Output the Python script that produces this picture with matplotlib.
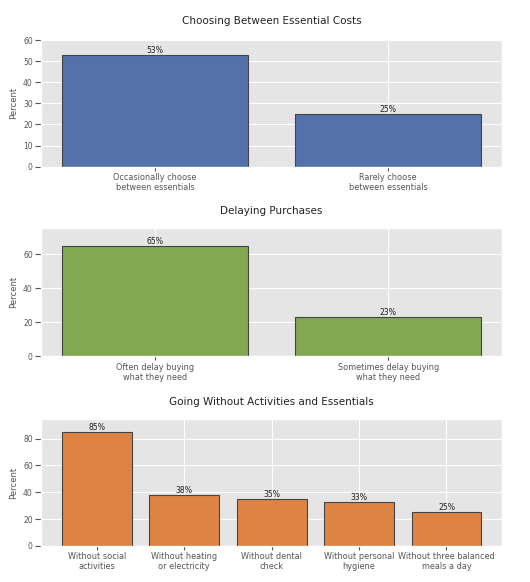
import matplotlib
matplotlib.use("Agg")
import matplotlib.pyplot as plt

plt.style.use("ggplot")

titles = ["Choosing Between Essential Costs", "Delaying Purchases",
          "Going Without Activities and Essentials"]

cats1 = ["Occasionally choose\nbetween essentials", "Rarely choose\nbetween essentials"]
vals1 = [53, 25]
cats2 = ["Often delay buying\nwhat they need", "Sometimes delay buying\nwhat they need"]
vals2 = [65, 23]
cats3 = ["Without social\nactivities", "Without heating\nor electricity", "Without dental\ncheck",
         "Without personal\nhygiene", "Without three balanced\nmeals a day"]
vals3 = [85, 38, 35, 33, 25]

colors = ["#5471AB", "#82A952", "#DD8444"]
ylims = [60.5, 75.3, 94.4]
yticks = [[0, 10, 20, 30, 40, 50, 60], [0, 20, 40, 60], [0, 20, 40, 60, 80]]

fig = plt.figure(figsize=(5.3, 5.82), dpi=100)
boxes = [(0.077, 0.7136, 0.871, 0.2194),
         (0.077, 0.3878, 0.871, 0.2199),
         (0.077, 0.0619, 0.871, 0.2177)]

data = [(cats1, vals1), (cats2, vals2), (cats3, vals3)]
for i, ((cats, vals), box) in enumerate(zip(data, boxes)):
    ax = fig.add_axes(box)
    x = list(range(len(cats)))
    bars = ax.bar(x, vals, width=0.8, color=colors[i], edgecolor="#444444", linewidth=0.8)
    for b, v in zip(bars, vals):
        ax.text(b.get_x() + b.get_width() / 2, v, f"{v}%", ha="center", va="bottom",
                fontsize=5.6, color="#222222")
    ax.set_xticks(x)
    ax.set_xticklabels(cats, fontsize=5.9, color="#555555", linespacing=1.15)
    ax.set_ylim(0, ylims[i])
    ax.set_yticks(yticks[i])
    ax.tick_params(axis="y", labelsize=5.5, colors="#555555", length=4, width=0.8, pad=1.8)
    ax.tick_params(axis="x", colors="#555555", length=3, width=0.8, pad=1.5)
    ax.set_ylabel("Percent", fontsize=6.1, color="#555555", labelpad=3.5)
    ax.set_title(titles[i], fontsize=7.5, color="#222222", pad=10.5)

fig.savefig("out.png", dpi=100)
